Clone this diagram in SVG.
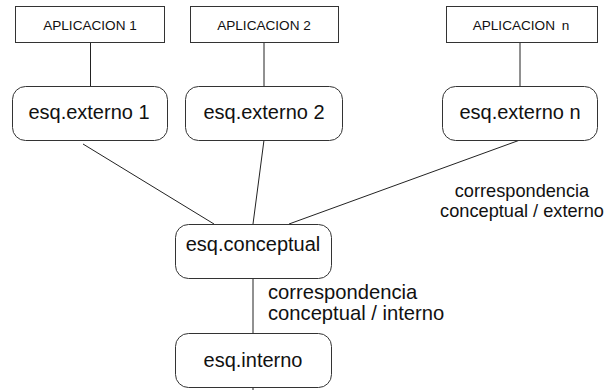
<svg xmlns="http://www.w3.org/2000/svg" width="615" height="390" viewBox="0 0 615 390">
<style>
.app{fill:#fff;stroke:#333;stroke-width:1}
.sch{fill:#fff;stroke:#333;stroke-width:1}
.t1{font-family:"Liberation Sans",Arial,sans-serif;font-size:13.6px;fill:#111;text-anchor:middle}
.t2{font-family:"Liberation Sans",Arial,sans-serif;font-size:20px;fill:#111;text-anchor:middle}
.lbl{font-family:"Liberation Sans",Arial,sans-serif;fill:#111}
.c{stroke:#222;stroke-width:1;fill:none}
</style>
<rect width="615" height="390" fill="#fff"/>
<g id="connectors">
<line class="c" x1="90.5" y1="42" x2="90.5" y2="86"/>
<line class="c" x1="264" y1="42" x2="264" y2="86"/>
<line class="c" x1="520" y1="42" x2="520" y2="86"/>
<line class="c" x1="83" y1="144" x2="214" y2="224"/>
<line class="c" x1="264" y1="140" x2="253" y2="224"/>
<line class="c" x1="520" y1="140" x2="289" y2="224"/>
<line class="c" x1="253" y1="278" x2="253" y2="333"/>
<line class="c" x1="253" y1="387" x2="253" y2="390"/>
</g>
<g id="app1"><rect class="app" x="15.5" y="6.5" width="149" height="36"/><text class="t1" x="90" y="30">APLICACION 1</text></g>
<g id="app2"><rect class="app" x="190.5" y="6.5" width="148" height="36"/><text class="t1" x="264" y="30">APLICACION 2</text></g>
<g id="appn"><rect class="app" x="446.5" y="6.5" width="151" height="36"/><text class="t1" x="521" y="30">APLICACION <tspan dx="3">n</tspan></text></g>
<g id="ext1"><rect class="sch" x="12.5" y="86.5" width="155" height="54" rx="13"/><text class="t2" x="89" y="119">esq.externo 1</text></g>
<g id="ext2"><rect class="sch" x="185.5" y="86.5" width="157" height="54" rx="13"/><text class="t2" x="264" y="119">esq.externo 2</text></g>
<g id="extn"><rect class="sch" x="442.5" y="86.5" width="155" height="54" rx="13"/><text class="t2" x="520" y="119">esq.externo n</text></g>
<g id="conceptual"><rect class="sch" x="175.5" y="224.5" width="156" height="54" rx="13"/><text class="t2" x="253" y="251">esq.conceptual</text></g>
<g id="interno"><rect class="sch" x="175.5" y="333.5" width="156" height="54" rx="13"/><text class="t2" x="253" y="367">esq.interno</text></g>
<g id="label-ext" font-size="18.2"><text class="lbl" text-anchor="middle" x="522" y="197">correspondencia</text><text class="lbl" text-anchor="middle" x="522" y="217">conceptual / externo</text></g>
<g id="label-int" font-size="20.2"><text class="lbl" x="268" y="299">correspondencia</text><text class="lbl" x="268" y="320">conceptual / interno</text></g>
</svg>
